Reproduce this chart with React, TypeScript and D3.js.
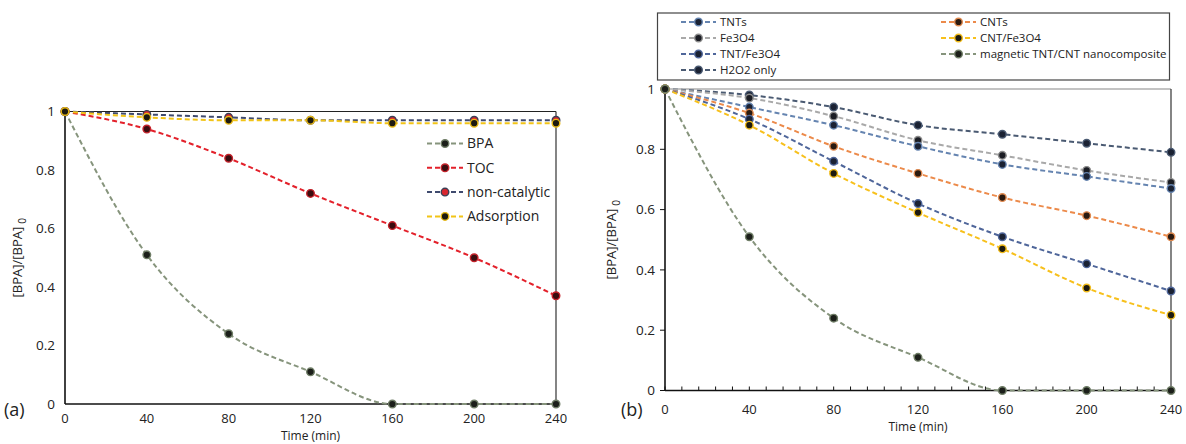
import React from "react";
import * as d3 from "d3";

// Sampling times (min)
const timeMin = [0, 40, 80, 120, 160, 200, 240];
const xTicks = [0, 40, 80, 120, 160, 200, 240];
const yTicks = [0, 0.2, 0.4, 0.6, 0.8, 1];
const yTickLabels = ["0", "0.2", "0.4", "0.6", "0.8", "1"];

// Panel (a) series
const bpaA = [1, 0.51, 0.24, 0.11, 0, 0, 0];
const tocA = [1, 0.94, 0.84, 0.72, 0.61, 0.5, 0.37];
const nonCatalyticA = [1, 0.99, 0.98, 0.97, 0.97, 0.97, 0.97];
const adsorptionA = [1, 0.98, 0.97, 0.97, 0.96, 0.96, 0.96];

// Panel (b) series
const tnts = [1, 0.94, 0.88, 0.81, 0.75, 0.71, 0.67];
const cnts = [1, 0.92, 0.81, 0.72, 0.64, 0.58, 0.51];
const fe3o4 = [1, 0.97, 0.91, 0.83, 0.78, 0.73, 0.69];
const cntFe3o4 = [1, 0.88, 0.72, 0.59, 0.47, 0.34, 0.25];
const tntFe3o4 = [1, 0.9, 0.76, 0.62, 0.51, 0.42, 0.33];
const magneticComposite = [1, 0.51, 0.24, 0.11, 0, 0, 0];
const h2o2Only = [1, 0.98, 0.94, 0.88, 0.85, 0.82, 0.79];

type Series = {
  name: string;
  values: number[];
  stroke: string;
  fill: string;
  ring: string;
};

const seriesA: Series[] = [
  { name: "BPA", values: bpaA, stroke: "#86947c", fill: "#1c1f1a", ring: "#6f7d66" },
  { name: "TOC", values: tocA, stroke: "#e3212b", fill: "#3a0d10", ring: "#c4222a" },
  { name: "non-catalytic", values: nonCatalyticA, stroke: "#3f4a6e", fill: "#d9262e", ring: "#3a3f55" },
  { name: "Adsorption", values: adsorptionA, stroke: "#f2c417", fill: "#1d1a10", ring: "#e8b914" },
];

const seriesB: Series[] = [
  { name: "H2O2 only", values: h2o2Only, stroke: "#4a5a72", fill: "#1b2233", ring: "#4a5a72" },
  { name: "Fe3O4", values: fe3o4, stroke: "#a9a9a9", fill: "#1b1d24", ring: "#8d8d8d" },
  { name: "TNTs", values: tnts, stroke: "#6584b0", fill: "#1b2233", ring: "#6584b0" },
  { name: "CNTs", values: cnts, stroke: "#ec8a4a", fill: "#2a1a10", ring: "#e08a50" },
  { name: "TNT/Fe3O4", values: tntFe3o4, stroke: "#4f669a", fill: "#1b2233", ring: "#4f669a" },
  { name: "CNT/Fe3O4", values: cntFe3o4, stroke: "#f7c01c", fill: "#1d1a10", ring: "#f0bb1a" },
  { name: "magnetic TNT/CNT nanocomposite", values: magneticComposite, stroke: "#86947c", fill: "#1c1f1a", ring: "#6f7d66" },
];

// Legend order for panel (b): two columns
const legendLeftB = ["TNTs", "Fe3O4", "TNT/Fe3O4", "H2O2 only"];
const legendRightB = ["CNTs", "CNT/Fe3O4", "magnetic TNT/CNT nanocomposite"];

const FONT = "'Open Sans', 'Noto Sans', sans-serif";
const DASH = "5 3";

type PanelProps = {
  x0: number;
  x1: number;
  yTop: number;
  yBottom: number;
  series: Series[];
  minorTicks: boolean;
  tag: string;
  tagPos: [number, number];
  xLabelY: number;
  titleY: number;
  yLabelX: number;
  frameTop: string;
};

function Marker({ cx, cy, s }: { cx: number; cy: number; s: Series }) {
  return <circle cx={cx} cy={cy} r={3.8} fill={s.fill} stroke={s.ring} strokeWidth={1.4} />;
}

function Panel(p: PanelProps) {
  const x = d3.scaleLinear().domain([0, 240]).range([p.x0, p.x1]);
  const y = d3.scaleLinear().domain([0, 1]).range([p.yBottom, p.yTop]);
  const line = d3
    .line<number>()
    .x((_, i) => x(timeMin[i]))
    .y((v) => y(v))
    .curve(d3.curveMonotoneX);
  const minor = p.minorTicks ? d3.range(0, 241, 8) : [];
  const yMid = (p.yTop + p.yBottom) / 2;
  return (
    <g fontFamily={FONT}>
      {/* frame */}
      <line x1={p.x0} x2={p.x1} y1={p.yTop} y2={p.yTop} stroke={p.frameTop} strokeWidth={1.2} />
      <line x1={p.x1} x2={p.x1} y1={p.yTop} y2={p.yBottom} stroke="#333" strokeWidth={1.2} />
      <line x1={p.x0} x2={p.x0} y1={p.yTop} y2={p.yBottom} stroke="#111" strokeWidth={1.6} />
      <line x1={p.x0} x2={p.x1} y1={p.yBottom} y2={p.yBottom} stroke="#111" strokeWidth={1.6} />
      {minor.map((t) => (
        <line key={"m" + t} x1={x(t)} x2={x(t)} y1={p.yBottom} y2={p.yBottom - 4} stroke="#111" strokeWidth={1} />
      ))}
      {p.minorTicks &&
        yTicks.map((t) => (
          <line key={"yt" + t} x1={p.x0 - 5} x2={p.x0} y1={y(t)} y2={y(t)} stroke="#111" strokeWidth={1} />
        ))}
      {/* tick labels */}
      {yTicks.map((t, i) => (
        <text key={"yl" + t} x={p.x0 - 10} y={y(t)} dy="0.35em" textAnchor="end" fontSize={13.5} fill="#222">
          {yTickLabels[i]}
        </text>
      ))}
      {xTicks.map((t) => (
        <text key={"xl" + t} x={x(t)} y={p.xLabelY} textAnchor="middle" fontSize={13} fill="#222">
          {t}
        </text>
      ))}
      <text x={(p.x0 + p.x1) / 2} y={p.titleY} textAnchor="middle" fontSize={12} fill="#222">
        Time (min)
      </text>
      <text
        transform={`translate(${p.yLabelX},${yMid}) rotate(-90)`}
        textAnchor="middle"
        fontSize={13}
        fill="#222"
      >
        [BPA]/[BPA]
        <tspan dx="3" dy="4" fontSize={10}>
          0
        </tspan>
      </text>
      <text x={p.tagPos[0]} y={p.tagPos[1]} fontSize={18} fill="#222">
        {p.tag}
      </text>
      {/* series */}
      {p.series.map((s) => (
        <path key={s.name} d={line(s.values) ?? ""} fill="none" stroke={s.stroke} strokeWidth={2} strokeDasharray={DASH} />
      ))}
      {p.series.map((s) =>
        s.values.map((v, i) => <Marker key={s.name + i} cx={x(timeMin[i])} cy={y(v)} s={s} />)
      )}
    </g>
  );
}

function LegendItem({ s, x, y, len, fontSize }: { s: Series; x: number; y: number; len: number; fontSize: number }) {
  return (
    <g>
      <line x1={x} x2={x + len} y1={y} y2={y} stroke={s.stroke} strokeWidth={2} strokeDasharray="5 3" />
      <Marker cx={x + len / 2} cy={y} s={s} />
      <text x={x + len + 4} y={y} dy="0.35em" fontSize={fontSize} fill="#222" fontFamily={FONT}>
        {s.name}
      </text>
    </g>
  );
}

export default function App() {
  const byName = (n: string) => seriesB.find((s) => s.name === n)!;
  return (
    <svg width={1186} height={444} style={{ position: "absolute", left: 0, top: 0, background: "#fff" }}>
      <rect width={1186} height={444} fill="#fff" />
      <Panel
        x0={65}
        x1={556}
        yTop={111.5}
        yBottom={404}
        series={seriesA}
        minorTicks={false}
        tag="(a)"
        tagPos={[4, 416]}
        xLabelY={423}
        titleY={440}
        yLabelX={22}
        frameTop="#222"
      />
      {seriesA.map((s, i) => (
        <LegendItem key={s.name} s={s} x={427} y={143.5 + i * 24.3} len={36} fontSize={14} />
      ))}
      <Panel
        x0={665}
        x1={1171}
        yTop={89}
        yBottom={390.5}
        series={seriesB}
        minorTicks={true}
        tag="(b)"
        tagPos={[621, 416]}
        xLabelY={414}
        titleY={431}
        yLabelX={616}
        frameTop="#888"
      />
      <rect x={657.5} y={13} width={512} height={67} fill="#fff" stroke="#444" strokeWidth={1.2} />
      {legendLeftB.map((n, i) => (
        <LegendItem key={n} s={byName(n)} x={681} y={22 + i * 16} len={35} fontSize={11.5} />
      ))}
      {legendRightB.map((n, i) => (
        <LegendItem key={n} s={byName(n)} x={941} y={22 + i * 16} len={35} fontSize={11.5} />
      ))}
    </svg>
  );
}
